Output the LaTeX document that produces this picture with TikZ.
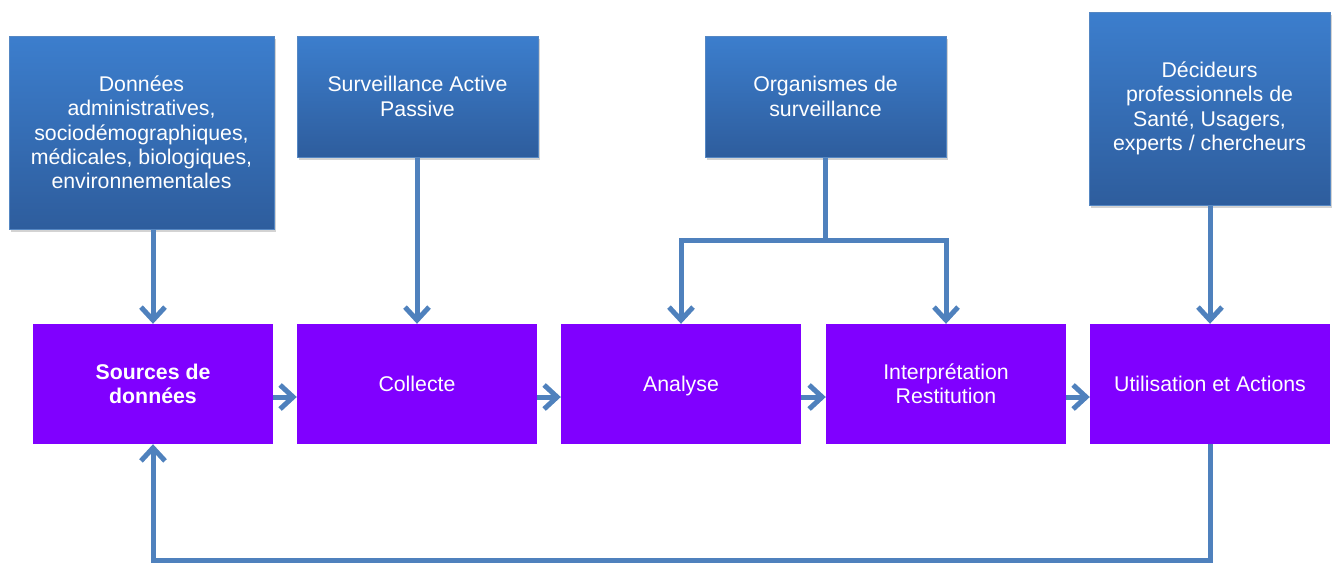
\documentclass[tikz,border=0pt]{standalone}
\usepackage{fontspec}
\setmainfont{Liberation Sans}
\usetikzlibrary{arrows.meta,shadows}
\definecolor{topc}{RGB}{60,126,205}
\definecolor{botc}{RGB}{46,93,157}
\definecolor{edgec}{RGB}{85,135,195}
\definecolor{purp}{RGB}{128,0,255}
\definecolor{linkc}{RGB}{79,129,189}
\begin{document}
\begin{tikzpicture}[x=1pt,y=-1pt,
  topbox/.style={draw=edgec, line width=1pt, top color=topc, bottom color=botc,
    text=white, inner sep=0pt, align=center, font=\fontsize{21.3}{24.3}\selectfont,
    drop shadow={opacity=0.35, shadow xshift=2pt, shadow yshift=-3pt}},
  stagebox/.style={fill=purp, text=white, inner sep=0pt, align=center,
    minimum width=240pt, minimum height=120pt, font=\fontsize{21.3}{24.5}\selectfont},
  conn/.style={draw=linkc, line width=5pt, -{Straight Barb[length=13pt,width=24pt,line width=5pt]}},
  plain/.style={draw=linkc, line width=5pt}]
\useasboundingbox (0,0) rectangle (1333,565);
% top boxes
\node[topbox, minimum width=265pt, minimum height=193pt] (a) at (141.5,132.5)
  {Données\\administratives,\\sociodémographiques,\\médicales, biologiques,\\environnementales};
\node[topbox, minimum width=241pt, minimum height=121pt] (b) at (417.5,96.5)
  {Surveillance Active\\Passive};
\node[topbox, minimum width=241pt, minimum height=121pt] (c) at (825.5,96.5)
  {Organismes de\\surveillance};
\node[topbox, minimum width=241pt, minimum height=193pt] (d) at (1209.5,108.5)
  {Décideurs\\professionnels de\\Santé, Usagers,\\experts / chercheurs};
% stage boxes
\node[stagebox] (s) at (153,384) {\textbf{Sources de}\\\textbf{données}};
\node[stagebox] (co) at (417,384) {Collecte};
\node[stagebox] (an) at (681,384) {\raisebox{0pt}[\height][0pt]{Analyse}};
\node[stagebox] (ip) at (946,384) {Interprétation\\Restitution};
\node[stagebox] (u) at (1210,384) {Utilisation et Actions};
% vertical connectors
\draw[conn] (s.north |- a.south) -- (s.north);
\draw[conn] (co.north |- b.south) -- (co.north);
\coordinate (j) at (825.5,240);
\draw[plain] (c.south) -- (j);
\draw[conn] (j) -| (an.north);
\draw[conn] (j) -| (ip.north);
\draw[conn] (u.north |- d.south) -- (u.north);
% horizontal connectors
\draw[conn] ([yshift=-13pt]s.east) -- ([yshift=-13pt]co.west);
\draw[conn] ([yshift=-13pt]co.east) -- ([yshift=-13pt]an.west);
\draw[conn] ([yshift=-13pt]an.east) -- ([yshift=-13pt]ip.west);
\draw[conn] ([yshift=-13pt]ip.east) -- ([yshift=-13pt]u.west);
% feedback
\coordinate (fb) at (153,560);
\draw[conn] (u.south) |- (fb) -- (s.south);
\end{tikzpicture}
\end{document}
